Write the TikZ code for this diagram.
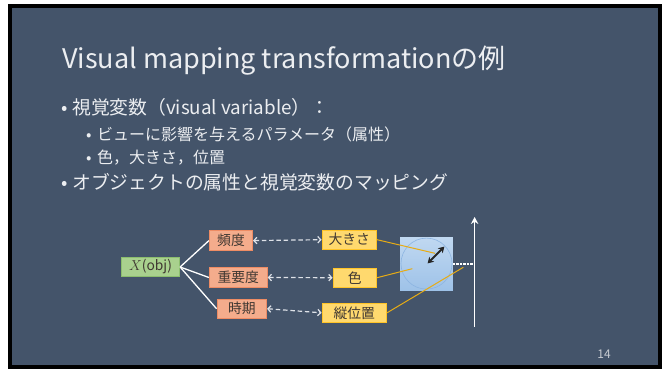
\documentclass[tikz,border=0pt]{standalone}
\usepackage{fontspec}
\setmainfont{Noto Sans CJK JP}
\usetikzlibrary{arrows.meta}

\definecolor{slate}{HTML}{44546A}
\definecolor{txt}{RGB}{236,238,241}
\definecolor{pagenum}{RGB}{200,204,210}
\definecolor{boxtxt}{RGB}{64,56,50}
\definecolor{gfill}{RGB}{169,209,142}
\definecolor{gbord}{RGB}{140,190,110}
\definecolor{ofill}{RGB}{244,172,140}
\definecolor{obord}{RGB}{238,140,100}
\definecolor{yfill}{RGB}{255,217,110}
\definecolor{ybord}{RGB}{255,196,40}
\definecolor{gold}{RGB}{232,172,20}
\definecolor{sqtop}{RGB}{192,216,241}
\definecolor{sqbot}{RGB}{158,194,232}
\definecolor{ring}{RGB}{140,180,225}
\definecolor{dashcol}{RGB}{222,226,232}

\tikzset{
  boxbase/.style={rectangle, line width=0.8pt, minimum height=19.5pt, inner sep=0pt,
    text=boxtxt, font=\fontsize{13.8}{16}\selectfont},
  objbox/.style={boxbase, draw=gbord, fill=gfill},
  attrbox/.style={boxbase, draw=obord, fill=ofill},
  varbox/.style={boxbase, draw=ybord, fill=yfill},
  treeline/.style={white, line width=1.3pt},
  dasharrow/.style={dashcol, line width=1.2pt, dash pattern=on 4.5pt off 2.8pt,
    {Straight Barb[length=3pt,width=6.5pt]}-{Straight Barb[length=3pt,width=6.5pt]}},
  goldline/.style={gold, line width=1pt},
  titletext/.style={anchor=base west, inner sep=0pt, text=txt, font=\fontsize{27}{32}\selectfont},
  lvlone/.style={anchor=base west, inner sep=0pt, text=txt, font=\fontsize{18.8}{22}\selectfont},
  lvltwo/.style={anchor=base west, inner sep=0pt, text=txt, font=\fontsize{16}{19}\selectfont},
}

\begin{document}
\begin{tikzpicture}[x=1pt,y=-1pt]
\useasboundingbox (0,0) rectangle (666,369);
% slide frame
\fill[white] (0,0) rectangle (666,369);
\fill[black] (8,4) rectangle (662,369);
\fill[slate] (12,8) rectangle (658,365);

% title
\node[titletext] (title) at (62,68) {Visual mapping transformationの例};

% bullet list
\node[lvlone] (b1) at (61,114) {•};
\node[lvlone] (t1) at (72,114) {視覚変数（visual variable）：};
\node[lvltwo] (b2) at (86,140) {•};
\node[lvltwo] (t2) at (97,140) {ビューに影響を与えるパラメータ（属性）};
\node[lvltwo] (b3) at (86,163) {•};
\node[lvltwo] (t3) at (97,163) {色，大きさ，位置};
\node[lvlone] (b4) at (61,189) {•};
\node[lvlone] (t4) at (72,189) {オブジェクトの属性と視覚変数のマッピング};

% object and attributes
\node[objbox, minimum width=58.4pt] (obj) at (150.5,267) {$X$(obj)};
\node[attrbox, minimum width=43.4pt] (hindo) at (231,240.6) {頻度};
\node[attrbox, minimum width=58pt] (juyodo) at (238.3,277.5) {重要度};
\node[attrbox, minimum width=49.7pt] (jiki) at (241.8,308.7) {時期};

% visual variables
\node[varbox, minimum width=54.7pt] (okisa) at (349.3,239.7) {大きさ};
\node[varbox, minimum width=43.7pt] (iro) at (354.8,277.7) {色};
\node[varbox, minimum width=64.7pt] (tate) at (354.3,312.8) {縦位置};

% tree from the object to its attributes
\draw[treeline] (obj.east) -- (hindo.west);
\draw[treeline] (obj.east) -- (juyodo.west);
\draw[treeline] (obj.east) -- (jiki.west);

% attribute <-> visual variable mapping
\draw[dasharrow] (hindo.east) -- (okisa.west);
\draw[dasharrow] (juyodo.east) -- (iro.west);
\draw[dasharrow] (jiki.east) -- (tate.west);

% glyph: shaded square with inscribed circle
\node[rectangle, minimum width=52.7pt, minimum height=53pt, inner sep=0pt,
  top color=sqtop, bottom color=sqbot] (sq) at (426.4,264.2) {};
\node[circle, draw=ring, line width=0.6pt, minimum size=51pt, inner sep=0pt] (ring) at (426.5,263.6) {};

% vertical position axis
\coordinate (axbot) at (474.6,326.5);
\coordinate (axtop) at (474.6,217);
\coordinate (axmid) at (474.6,264.2);
\draw[white, line width=1.6pt, -{Stealth[length=7pt,width=7.5pt]}] (axbot) -- (axtop);
\draw[white, line width=2.2pt, dash pattern=on 2.2pt off 1.3pt] (sq.east) -- (axmid);

% leader lines from the variables into the glyph
\coordinate (sizept) at (435,253.3);
\coordinate (colpt) at (412.3,268.7);
\coordinate (pospt) at (463.3,267.3);
\draw[goldline] (okisa.east) -- (sizept);
\draw[goldline] (iro.east) -- (colpt);
\draw[goldline] (tate.east) -- (pospt);

% size arrow
\coordinate (sza) at (427.6,263.4);
\coordinate (szb) at (444.4,246.6);
\draw[black!85, line width=2pt, {Stealth[length=6pt,width=7pt]}-{Stealth[length=6pt,width=7pt]}] (sza) -- (szb);

% page number
\node[inner sep=0pt, text=pagenum, font=\fontsize{12}{14}\selectfont] (page) at (604,354) {14};
\end{tikzpicture}
\end{document}
